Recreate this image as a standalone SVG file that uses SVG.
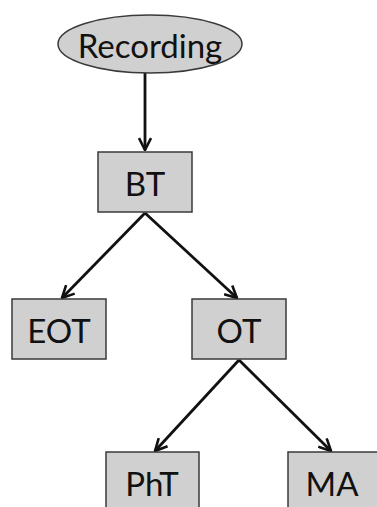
<svg xmlns="http://www.w3.org/2000/svg" width="377" height="507" viewBox="0 0 377 507">
<defs>
<style>
.n{fill:#d0d0d0;stroke:#3a3a3a;stroke-width:1.5}
.t{font-family:Lato,"Open Sans","Liberation Sans",sans-serif;font-size:33px;fill:#111;text-anchor:middle}
.c{stroke:#111;stroke-width:2.8;fill:none;marker-end:url(#ah)}
</style>
<marker id="ah" viewBox="0 0 14 14" refX="13" refY="7" markerWidth="14" markerHeight="14" markerUnits="userSpaceOnUse" orient="auto">
<path d="M1,1 L13,7 L1,13" fill="none" stroke="#111" stroke-width="2.6"/>
</marker>
</defs>
<rect width="377" height="507" fill="#fff"/>
<g id="connectors">
<line class="c" x1="145" y1="73" x2="145" y2="150"/>
<line class="c" x1="145" y1="213" x2="62" y2="298"/>
<line class="c" x1="145" y1="213" x2="237" y2="298"/>
<line class="c" x1="239" y1="360" x2="155" y2="451"/>
<line class="c" x1="239" y1="360" x2="331" y2="451"/>
</g>
<g id="recording">
<ellipse class="n" cx="150" cy="44" rx="92" ry="29"/>
<text class="t" x="150" y="58">Recording</text>
</g>
<g id="bt">
<rect class="n" x="98" y="152" width="94" height="60"/>
<text class="t" x="145" y="196">BT</text>
</g>
<g id="eot">
<rect class="n" x="12" y="299" width="94" height="60"/>
<text class="t" x="59" y="343">EOT</text>
</g>
<g id="ot">
<rect class="n" x="192" y="299" width="94" height="60"/>
<text class="t" x="239" y="343">OT</text>
</g>
<g id="pht">
<rect class="n" x="106" y="452" width="93" height="70"/>
<text class="t" x="152" y="496">PhT</text>
</g>
<g id="ma">
<rect class="n" x="288" y="452" width="95" height="70"/>
<text class="t" x="332" y="496">MA</text>
</g>
</svg>
